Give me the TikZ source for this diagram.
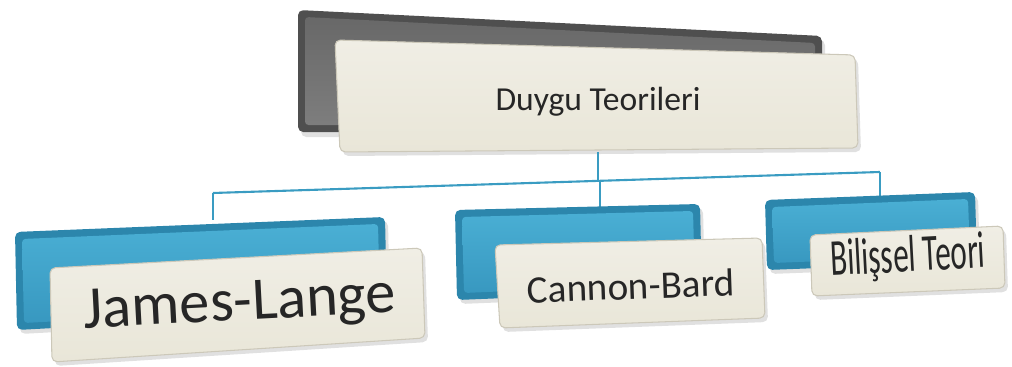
\documentclass[tikz,border=0pt]{standalone}
\usepackage{fontspec}
\setmainfont{Carlito}
\usepackage{graphicx}
\definecolor{lineblue}{HTML}{3A9CC2}
\definecolor{blueouter}{HTML}{2C86AC}
\definecolor{bluetop}{HTML}{4AAFD4}
\definecolor{bluebot}{HTML}{3898C0}
\definecolor{grayouter}{HTML}{4F4F4F}
\definecolor{graytop}{HTML}{686868}
\definecolor{graybot}{HTML}{7E7E7E}
\definecolor{beige}{HTML}{E9E6D8}
\definecolor{beigetop}{HTML}{F0EEE5}
\definecolor{beigeedge}{HTML}{CCC8B9}
\tikzset{
  conn/.style={draw=lineblue, line width=1.2pt},
  bevelout/.style={line join=round, rounded corners=3pt},
  card/.style={top color=beigetop, bottom color=beige, draw=beigeedge, line width=0.6pt, rounded corners=3pt},
  shadowfill/.style={fill=black, opacity=0.12, rounded corners=3pt},
  lbl/.style={inner sep=0pt, text=black!85}
}
\begin{document}
\begin{tikzpicture}[x=0.02cm, y=-0.02cm]
\useasboundingbox (0,0) rectangle (1012,367);
% ---- top gray back plate
\fill[shadowfill] (301,14) -- (825,40) -- (825,140) -- (301,137) -- cycle;
\fill[grayouter, bevelout] (298,10) -- (822,36) -- (822,135) -- (298,132) -- cycle;
\shade[top color=graytop, bottom color=graybot, rounded corners=2pt] (305,17) -- (815,43) -- (815,128) -- (305,125) -- cycle;
% top card
\fill[shadowfill] (338,44) -- (858,59) -- (861,152) -- (343,156) -- cycle;
\shade[card] (335,40) -- (855,55) -- (858,148) -- (340,152) -- cycle;
\node[lbl] (top) at (598,102) {\resizebox{4.1cm}{!}{Duygu Teorileri}};
% ---- connectors
\coordinate (topbot) at (598,152);
\coordinate (hub) at (598,181);
\coordinate (hl) at (213,193);
\coordinate (hr) at (880,172);
\coordinate (jl) at (213,220);
\coordinate (cbt) at (600,181);
\coordinate (cb) at (600,207);
\coordinate (bt) at (880,196);
\draw[conn] (topbot) -- (hub);
\draw[conn] (hl) -- (hr);
\draw[conn] (hl) -- (jl);
\draw[conn] (cbt) -- (cb);
\draw[conn] (hr) -- (bt);
% ---- James-Lange
\fill[shadowfill] (18,236) -- (388,221) -- (390,314) -- (20,334) -- cycle;
\fill[blueouter, bevelout] (15,232) -- (385,217) -- (387,310) -- (17,330) -- cycle;
\shade[top color=bluetop, bottom color=bluebot, rounded corners=2pt] (22,239) -- (378,224) -- (380,304) -- (24,323) -- cycle;
\fill[shadowfill] (53,272) -- (425,252) -- (428,342) -- (55,366) -- cycle;
\shade[card] (50,268) -- (422,248) -- (425,338) -- (52,362) -- cycle;
\node[lbl, rotate=3] (jam) at (240,306) {\resizebox{6.25cm}{!}{James-Lange}};
% ---- Cannon-Bard
\fill[shadowfill] (458,214) -- (703,208) -- (705,294) -- (460,304) -- cycle;
\fill[blueouter, bevelout] (455,210) -- (700,204) -- (702,290) -- (457,300) -- cycle;
\shade[top color=bluetop, bottom color=bluebot, rounded corners=2pt] (462,217) -- (693,211) -- (695,283) -- (464,293) -- cycle;
\fill[shadowfill] (498,249) -- (765,242) -- (768,322) -- (503,332) -- cycle;
\shade[card] (495,245) -- (762,238) -- (765,318) -- (500,328) -- cycle;
\node[lbl, rotate=2] (can) at (631,286) {\resizebox{4.15cm}{!}{Cannon-Bard}};
% ---- Bilissel Teori
\fill[shadowfill] (768,204) -- (978,196) -- (980,266) -- (770,274) -- cycle;
\fill[blueouter, bevelout] (765,200) -- (975,192) -- (977,262) -- (767,270) -- cycle;
\shade[top color=bluetop, bottom color=bluebot, rounded corners=2pt] (772,207) -- (968,199) -- (970,255) -- (774,263) -- cycle;
\fill[shadowfill] (813,239) -- (1006,230) -- (1008,292) -- (815,300) -- cycle;
\shade[card] (810,235) -- (1003,226) -- (1005,288) -- (812,296) -- cycle;
\node[lbl, rotate=3] (bil) at (908,258) {\resizebox{3.1cm}{0.72cm}{Bilişsel Teori}};
\end{tikzpicture}
\end{document}
